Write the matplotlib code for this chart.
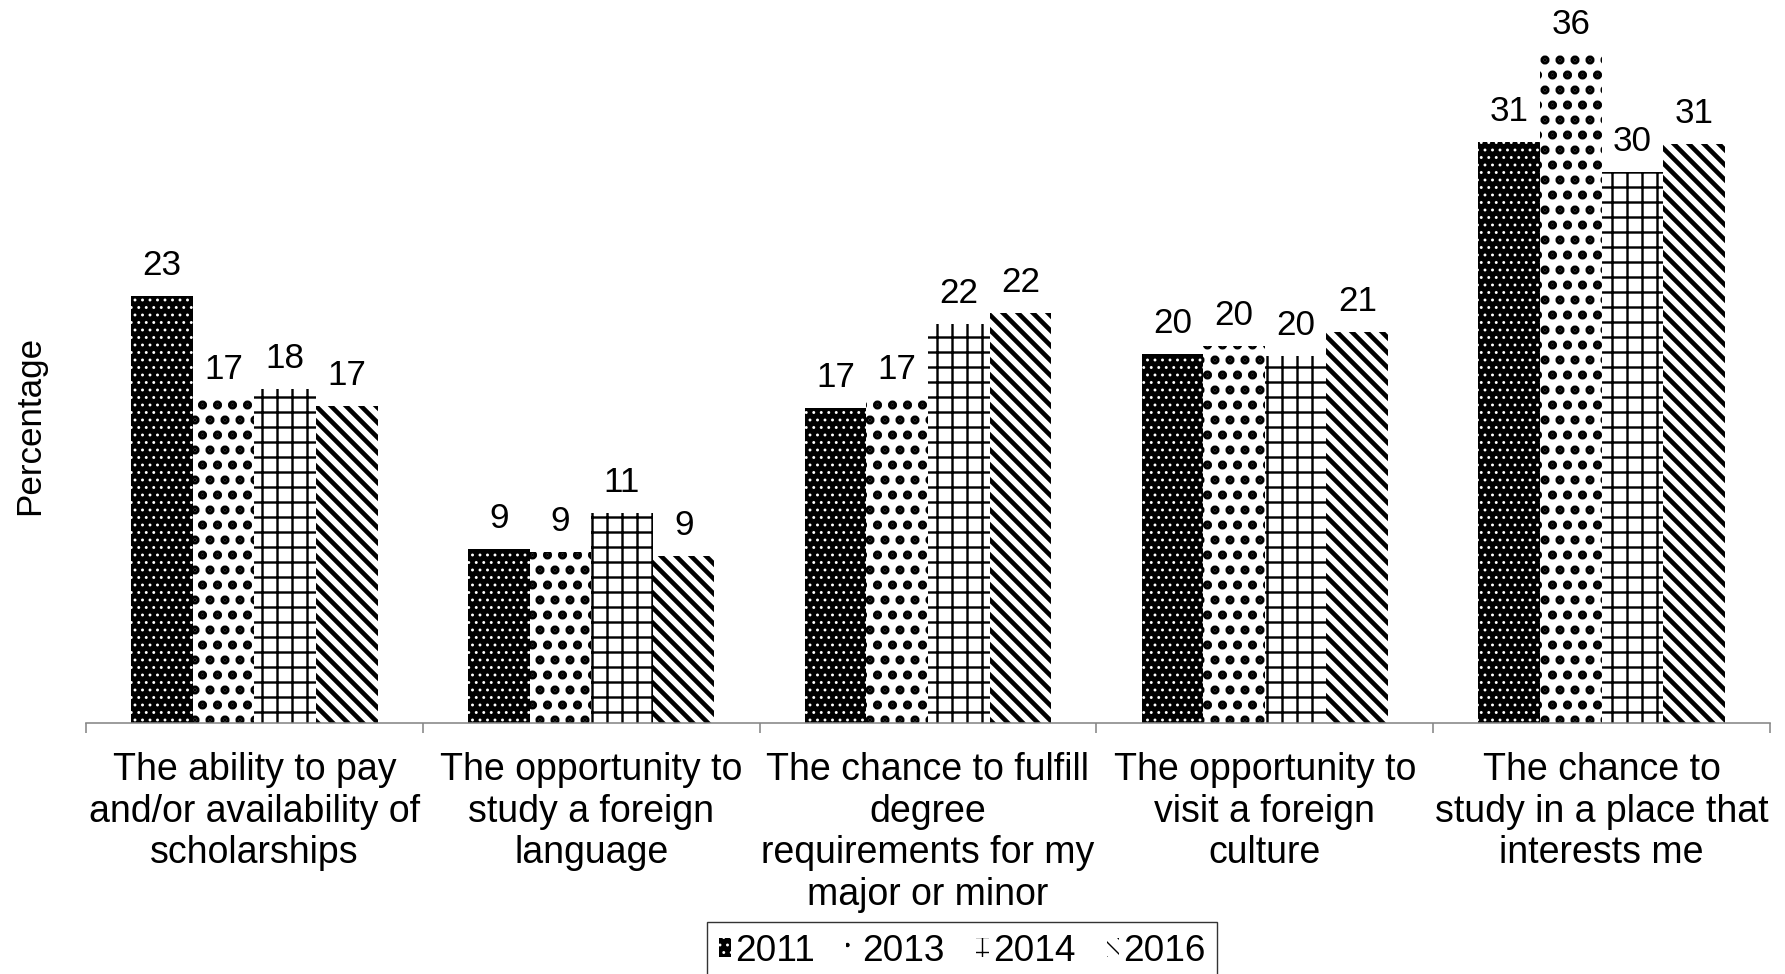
import matplotlib
matplotlib.use('Agg')
import matplotlib.pyplot as plt
import numpy as np

# Chart data
categories = ['The ability to pay\nand/or availability of\nscholarships',
              'The opportunity to\nstudy a foreign\nlanguage',
              'The chance to fulfill\ndegree\nrequirements for my\nmajor or minor',
              'The opportunity to\nvisit a foreign\nculture',
              'The chance to\nstudy in a place that\ninterests me']
years = ['2011', '2013', '2014', '2016']
v2011 = [23.0, 9.4, 17.0, 19.9, 31.3]
v2013 = [17.4, 9.2, 17.4, 20.3, 36.0]
v2014 = [18.0, 11.3, 21.5, 19.8, 29.7]
v2016 = [17.1, 9.0, 22.1, 21.1, 31.2]

##############################

DPI = 90
W, H = 1785, 974

def pt(px):
    # pixel size -> points at the chosen dpi
    return px * 72. / DPI

plt.rcParams['font.family'] = ['Liberation Sans', 'DejaVu Sans']

fig = plt.figure(figsize=(W / DPI, H / DPI), dpi=DPI)
ax = fig.add_axes([86/W, 251/H, (1770-86)/W, 723/H])

series = [v2011, v2013, v2014, v2016]
# facecolor, hatch colour, hatch, hatch linewidth (px)
styles = [('black', 'white', '..', 1.4),
          ('white', 'black', '.', 6.0),
          ('white', 'black', '+', 2.4),
          ('white', 'black', '\\\\', 4.6)]
w = 0.183
x = np.arange(len(categories))

handles = []
for j, vals in enumerate(series):
    fc, hc, hatch, hlw = styles[j]
    with plt.rc_context({'hatch.linewidth': pt(hlw)}):
        bars = ax.bar(x + (j - 1.5) * w, vals, w, facecolor=fc, edgecolor=hc,
                      hatch=hatch, linewidth=0, label=years[j])
        for b in bars:
            if hasattr(b, 'set_hatch_linewidth'):
                b.set_hatch_linewidth(pt(hlw))
    handles.append(bars)
    for b, v in zip(bars, vals):
        ax.annotate('%d' % round(v), (b.get_x() + b.get_width() / 2, v),
                    xytext=(0, pt(14)), textcoords='offset points',
                    ha='center', va='bottom', fontsize=pt(35))

ax.set_xlim(-0.5, len(categories) - 0.5)
ax.set_ylim(0, 723 / 18.55)

for s in ['top', 'right', 'left']:
    ax.spines[s].set_visible(False)
ax.spines['bottom'].set_color('#868686')
ax.spines['bottom'].set_linewidth(pt(1.6))
ax.set_yticks([])

ax.set_xticks(np.arange(-0.5, len(categories)), [''] * (len(categories) + 1))
ax.set_xticks(x, categories, minor=True)
ax.tick_params(axis='x', which='major', length=pt(10), width=pt(1.6), color='#868686')
ax.tick_params(axis='x', which='minor', length=0, pad=pt(29), labelsize=pt(37.5))
for t in ax.get_xticklabels(minor=True):
    t.set_linespacing(1.2)

fig.text(30/W, 1 - 425/H, 'Percentage', rotation=90, ha='center', va='center', fontsize=pt(35))

with plt.rc_context({'hatch.linewidth': pt(1.4)}):
    leg = fig.legend(handles=handles, labels=years, loc='upper center',
                     bbox_to_anchor=(962/W, 1 - 922/H), ncol=4, fontsize=pt(37),
                     frameon=True, fancybox=False, edgecolor='black',
                     handlelength=0.34, handleheight=0.4, handletextpad=0.1,
                     columnspacing=0.85, borderpad=0.32, borderaxespad=0)
leg.get_frame().set_linewidth(pt(1.4))

plt.savefig('out.png', dpi=DPI)
plt.close()
